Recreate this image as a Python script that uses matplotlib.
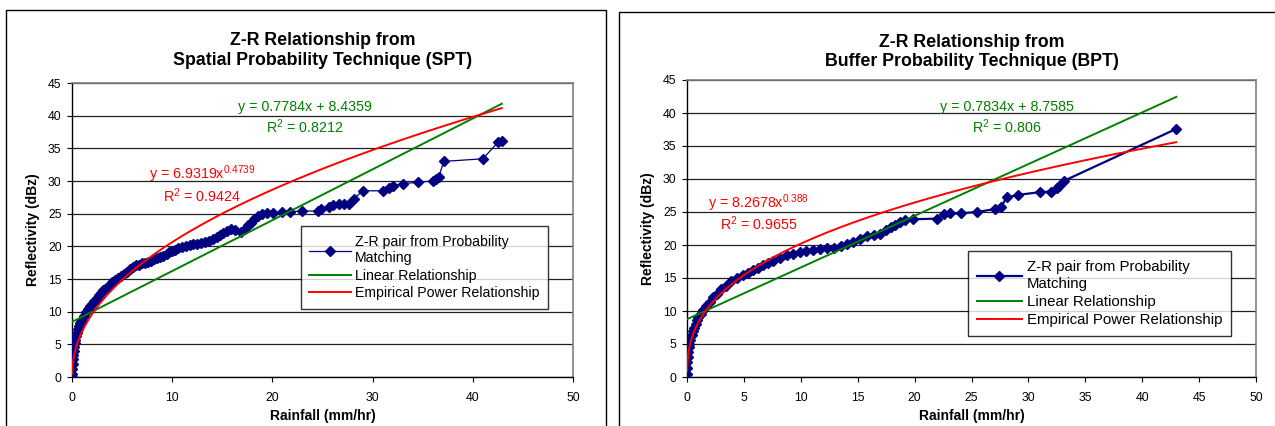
import matplotlib

matplotlib.use("Agg")
import matplotlib.pyplot as plt
import numpy as np
from matplotlib.patches import Rectangle

plt.rcParams["font.family"] = ["Liberation Sans", "DejaVu Sans"]
plt.rcParams["mathtext.fontset"] = "custom"
plt.rcParams["mathtext.rm"] = "Liberation Sans"
plt.rcParams["mathtext.it"] = "Liberation Sans:italic"

NAVY = "#000080"
GREEN = "#008000"
RED = "#FF0000"

# Spatial Probability Technique (SPT): Z-R pairs from probability matching
spt_rain = [0.0, 0.02, 0.04, 0.06, 0.08, 0.1, 0.15, 0.2, 0.25, 0.3, 0.4, 0.5, 0.6, 0.7,
            0.8, 0.9, 1.0, 1.2, 1.4, 1.6, 1.8, 2.0, 2.2, 2.45, 2.7, 2.9, 3.1, 3.4, 3.7,
            4.0, 4.3, 4.6, 4.9, 5.2, 5.5, 5.8, 6.1, 6.4, 6.7, 7.0, 7.3, 7.6, 7.9, 8.2,
            8.5, 8.8, 9.1, 9.45, 9.7, 10.0, 10.3, 10.6, 11.0, 11.4, 11.8, 12.1, 12.5,
            12.9, 13.3, 13.7, 14.1, 14.5, 14.8, 15.1, 15.5, 15.9, 16.3, 16.9, 17.3,
            17.6, 17.9, 18.2, 18.6, 19.0, 19.5, 20.1, 21.0, 21.8, 23.0, 24.6, 24.9,
            25.6, 26.0, 26.6, 27.1, 27.6, 28.1, 29.0, 31.0, 31.6, 32.0, 33.0, 34.5,
            36.0, 36.3, 36.6, 37.1, 41.0, 42.5, 42.9]
spt_refl = [0.0, 0.5, 1.2, 2.0, 2.8, 3.4, 4.0, 4.6, 5.2, 5.7, 6.3, 6.8, 7.3, 7.8,
            8.2, 8.5, 8.8, 9.4, 9.9, 10.4, 10.8, 11.2, 11.6, 12.0, 12.5, 12.9, 13.3,
            13.6, 14.0, 14.5, 14.8, 15.1, 15.5, 15.8, 16.1, 16.6, 16.9, 17.1, 17.2,
            17.4, 17.5, 17.6, 17.8, 18.0, 18.2, 18.4, 18.5, 18.8, 19.1, 19.3, 19.5,
            19.7, 19.9, 20.1, 20.2, 20.3, 20.4, 20.5, 20.6, 20.8, 21.1, 21.4, 21.8,
            22.0, 22.3, 22.6, 22.5, 22.2, 22.7, 23.2, 23.6, 24.2, 24.6, 24.9, 25.1,
            25.1, 25.3, 25.3, 25.4, 25.4, 25.7, 26.0, 26.3, 26.5, 26.5, 26.5, 27.2,
            28.5, 28.5, 29.0, 29.3, 29.6, 29.8, 30.0, 30.3, 30.6, 33.0, 33.4, 35.9,
            36.1]

# Buffer Probability Technique (BPT)
bpt_rain = [0.0, 0.02, 0.04, 0.07, 0.1, 0.15, 0.2, 0.3, 0.4, 0.5, 0.6, 0.75, 0.9,
            1.0, 1.2, 1.4, 1.7, 2.0, 2.3, 2.6, 3.0, 3.4, 3.9, 4.4, 4.95, 5.4, 5.8,
            6.2, 6.7, 7.1, 7.6, 8.2, 8.8, 9.3, 9.9, 10.5, 11.1, 11.7, 12.3, 12.9,
            13.5, 14.1, 14.6, 15.2, 15.8, 16.4, 17.0, 17.5, 17.9, 18.3, 18.7, 19.2,
            19.9, 22.0, 22.6, 23.1, 24.1, 25.5, 27.05, 27.55, 28.1, 29.1, 31.0,
            32.0, 32.5, 32.7, 33.1, 43.0]
bpt_refl = [0.5, 1.3, 2.2, 3.0, 3.8, 4.5, 5.0, 5.6, 6.3, 6.9, 7.4, 8.0, 8.6, 9.1,
            9.6, 10.1, 10.7, 11.4, 12.1, 12.6, 13.3, 13.8, 14.5, 15.0, 15.4, 15.8,
            16.2, 16.5, 16.9, 17.2, 17.6, 18.1, 18.5, 18.7, 19.0, 19.1, 19.2, 19.4,
            19.5, 19.6, 19.8, 20.2, 20.5, 20.9, 21.3, 21.5, 21.7, 22.2, 22.7, 23.1,
            23.5, 23.8, 23.9, 24.0, 24.7, 24.8, 24.8, 25.0, 25.45, 25.7, 27.2, 27.6,
            28.0, 28.1, 28.7, 28.9, 29.7, 37.6]

# trendline coefficients as printed on the chart
spt_linear = (0.7784, 8.4359, 0.8212)
spt_power = (6.9319, 0.4739, 0.9424)
bpt_linear = (0.7834, 8.7585, 0.806)
bpt_power = (8.2678, 0.388, 0.9655)


def draw_panel(ax, rain, refl, linear, power, title, xstep, blue_lw, marker_size,
               lin_text_xy, pow_text_xy, legend_anchor, legend_size, legend_handle,
               legend_spacing, title_pad):
    rain = np.asarray(rain)
    refl = np.asarray(refl)
    ax.plot(rain, refl, color=NAVY, lw=blue_lw, marker="D", ms=marker_size,
            mec=NAVY, mfc=NAVY, label="Z-R pair from Probability\nMatching", zorder=3)

    slope, icept, r2_lin = linear
    coef, expo, r2_pow = power
    xs = np.linspace(rain.min(), rain.max(), 300)
    ax.plot(xs, slope * xs + icept, color=GREEN, lw=1.4, label="Linear Relationship", zorder=4)
    xs_pow = np.linspace(0.003, rain.max(), 500)
    ax.plot(xs_pow, coef * xs_pow ** expo, color=RED, lw=1.4,
            label="Empirical Power Relationship", zorder=4)

    ax.text(*lin_text_xy, f"y = {slope}x + {icept}", color=GREEN, fontsize=10.3,
            ha="center", va="center")
    ax.text(lin_text_xy[0], lin_text_xy[1] - 3.0, f"R$^{{2}}$ = {r2_lin}", color=GREEN,
            fontsize=10.3, ha="center", va="center")
    ax.text(*pow_text_xy, f"y = {coef}x$^{{\\mathrm{{{expo}}}}}$", color=RED, fontsize=10.3,
            ha="center", va="center")
    ax.text(pow_text_xy[0], pow_text_xy[1] - 3.2, f"R$^{{2}}$ = {r2_pow}", color=RED,
            fontsize=10.3, ha="center", va="center")

    ax.set_xlim(0, 50)
    ax.set_ylim(0, 45)
    ax.set_xticks(np.arange(0, 51, xstep))
    ax.set_yticks(np.arange(0, 46, 5))
    ax.grid(axis="y", color="#202020", lw=0.9)
    ax.set_axisbelow(True)
    for side in ("top", "right"):
        ax.spines[side].set_color("#808080")
        ax.spines[side].set_linewidth(1.2)
    for side in ("left", "bottom"):
        ax.spines[side].set_color("black")
        ax.spines[side].set_linewidth(1.0)
    ax.tick_params(direction="out", length=3.5, width=0.8, labelsize=8.8)
    ax.tick_params(axis="x", pad=7)
    ax.tick_params(axis="y", pad=4)
    ax.set_xlabel("Rainfall (mm/hr)", fontsize=10, fontweight="bold", labelpad=4)
    ax.set_ylabel("Reflectivity (dBz)", fontsize=10, fontweight="bold", labelpad=6)
    ax.set_title(title, fontsize=12.8, fontweight="bold", pad=title_pad, linespacing=1.2)

    leg = ax.legend(loc="upper left", bbox_to_anchor=legend_anchor, fontsize=legend_size,
                    frameon=True, fancybox=False, shadow=False, borderpad=0.6,
                    handlelength=legend_handle, handletextpad=0.3,
                    labelspacing=legend_spacing, borderaxespad=0)
    leg.get_frame().set_edgecolor("black")
    leg.get_frame().set_linewidth(1.0)


fig = plt.figure(figsize=(12.75, 4.26), dpi=100)
ax1 = fig.add_axes([72 / 1275, 49 / 426, 501 / 1275, 294 / 426])
ax2 = fig.add_axes([687 / 1275, 49 / 426, 569 / 1275, 297 / 426])

draw_panel(ax1, spt_rain, spt_refl, spt_linear, spt_power,
           "Z-R Relationship from\nSpatial Probability Technique (SPT)", 10, 0.9, 4.6,
           (23.2, 41.3), (13.0, 31.0), (0.457, 0.512), 10.2, 2.9, 0.25, 13)
draw_panel(ax2, bpt_rain, bpt_refl, bpt_linear, bpt_power,
           "Z-R Relationship from\nBuffer Probability Technique (BPT)", 5, 1.6, 4.8,
           (28.1, 40.9), (6.3, 26.4), (0.493, 0.423), 10.8, 3.05, 0.28, 10)

# chart-area frames as in the spreadsheet export
fig.patches.append(Rectangle((6 / 1275, -0.05), 600 / 1275, (416 / 426) + 0.05,
                             transform=fig.transFigure, fill=False, ec="black", lw=1.0))
fig.patches.append(Rectangle((619 / 1275, -0.05), 700 / 1275, (414 / 426) + 0.05,
                             transform=fig.transFigure, fill=False, ec="black", lw=1.0))

fig.savefig("out.png", dpi=100)
